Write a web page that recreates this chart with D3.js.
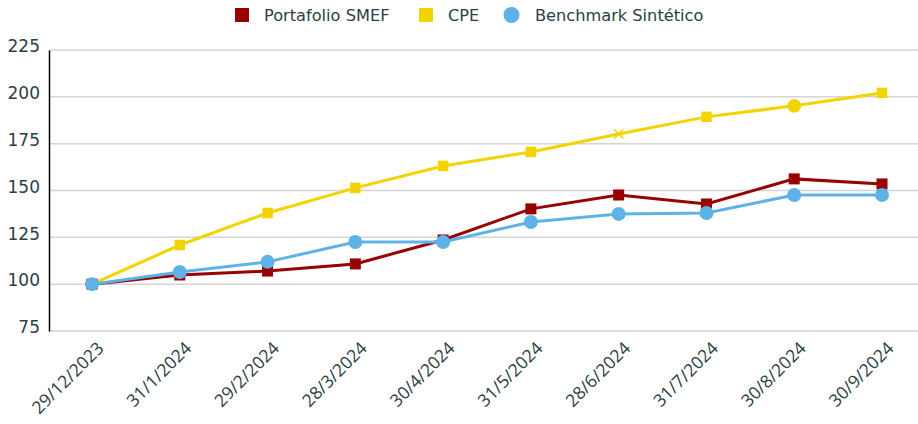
<!DOCTYPE html>
<html>
<head>
<meta charset="utf-8">
<title>Portafolio SMEF vs CPE</title>
<script src="https://cdn.jsdelivr.net/npm/d3@7"></script>
<style>
  body { margin: 0; background: #fff; }
  .tick text { fill: #2b4045; }
</style>
</head>
<body>
<div id="chart"></div>
<script>
// datos
var fechas = ["29/12/2023","31/1/2024","29/2/2024","28/3/2024","30/4/2024","31/5/2024","28/6/2024","31/7/2024","30/8/2024","30/9/2024"];
var smef = [100, 104.9, 107, 110.8, 123.6, 140.2, 147.6, 142.8, 156.2, 153.5];
var cpe = [100, 120.9, 138, 151.4, 163.1, 170.6, 180.2, 189.3, 195.2, 202.1];
var bench = [100, 106.5, 111.9, 122.5, 122.5, 133.2, 137.5, 138, 147.6, 147.6];
var cpeMarcas = ["square","square","square","square","square","square","cross","square","circle","square"];
var yTicks = [75, 100, 125, 150, 175, 200, 225];

var w = 918, h = 424;
var mLeft = 49, mRight = 918, mTop = 50, mBottom = 331;
var textColor = "#2b4045";

var svg = d3.select("#chart").append("svg")
  .attr("width", w).attr("height", h);

var x = d3.scalePoint().domain(fechas).range([92, 882]);
var y = d3.scaleLinear().domain([75, 225]).range([mBottom, mTop]);

// grid
svg.append("g").selectAll("line")
  .data(yTicks)
  .join("line")
  .attr("x1", mLeft).attr("x2", mRight)
  .attr("y1", function(d){ return y(d); })
  .attr("y2", function(d){ return y(d); })
  .attr("stroke", "#d4d4d4")
  .attr("stroke-width", 1.5);

// eje y
var yAxis = svg.append("g")
  .attr("transform", "translate(" + mLeft + ",0)")
  .call(d3.axisLeft(y).tickValues(yTicks).tickSize(0).tickPadding(9));
yAxis.select(".domain").attr("stroke", "#000").attr("stroke-width", 1.5);
yAxis.selectAll("text")
  .attr("font-family", "DejaVu Sans, Verdana, sans-serif")
  .attr("font-size", 17)
  .attr("dy", "0.1em");

// eje x
var xAxis = svg.append("g")
  .attr("transform", "translate(0," + mBottom + ")")
  .call(d3.axisBottom(x).tickSize(0));
xAxis.select(".domain").remove();
xAxis.selectAll("text")
  .attr("font-family", "Open Sans, Lato, sans-serif")
  .attr("font-size", 17.5)
  .attr("text-anchor", "end")
  .attr("transform", "translate(8,14) rotate(-45)")
  .attr("dy", "0.35em")
  .attr("y", 0);

var line = d3.line()
  .x(function(d, i){ return x(fechas[i]); })
  .y(function(d){ return y(d); });

function serie(vals, color) {
  svg.append("path")
    .datum(vals)
    .attr("d", line)
    .attr("fill", "none")
    .attr("stroke", color)
    .attr("stroke-width", 3);
}

var yellow = "#f2d400", red = "#990000", blue = "#5db3e8";

// CPE
serie(cpe, yellow);
svg.append("g").selectAll("path")
  .data(cpe)
  .join("path")
  .attr("transform", function(d, i){ return "translate(" + x(fechas[i]) + "," + y(d) + ")"; })
  .attr("d", function(d, i){
    var t = cpeMarcas[i];
    if (t == "circle") return d3.symbol(d3.symbolCircle, 150)();
    if (t == "cross") return d3.symbol(d3.symbolX, 60)();
    return d3.symbol(d3.symbolSquare, 110)();
  })
  .attr("fill", yellow)
  .attr("stroke", function(d, i){ return cpeMarcas[i] == "cross" ? yellow : "none"; })
  .attr("stroke-width", 1.5);

// SMEF
serie(smef, red);
svg.append("g").selectAll("rect")
  .data(smef)
  .join("rect")
  .attr("x", function(d, i){ return x(fechas[i]) - 5.5; })
  .attr("y", function(d){ return y(d) - 5.5; })
  .attr("width", 11).attr("height", 11)
  .attr("fill", red);

// Benchmark
serie(bench, blue);
svg.append("g").selectAll("circle")
  .data(bench)
  .join("circle")
  .attr("cx", function(d, i){ return x(fechas[i]); })
  .attr("cy", function(d){ return y(d); })
  .attr("r", 7)
  .attr("fill", blue);

// leyenda
var legend = [
  {name: "Portafolio SMEF", color: red, shape: "square", x: 235},
  {name: "CPE", color: yellow, shape: "square", x: 419},
  {name: "Benchmark Sintético", color: blue, shape: "circle", x: 504}
];
var lg = svg.append("g").selectAll("g")
  .data(legend)
  .join("g")
  .attr("transform", function(d){ return "translate(" + d.x + ",15)"; });
lg.filter(function(d){ return d.shape == "square"; })
  .append("rect")
  .attr("x", 0).attr("y", -7).attr("width", 14).attr("height", 14)
  .attr("fill", function(d){ return d.color; });
lg.filter(function(d){ return d.shape == "circle"; })
  .append("circle")
  .attr("cx", 7.5).attr("cy", 0).attr("r", 8)
  .attr("fill", function(d){ return d.color; });
lg.append("text")
  .attr("x", function(d){ return d.shape == "circle" ? 31 : 29; })
  .attr("y", 0).attr("dy", "0.35em")
  .attr("font-family", "DejaVu Sans, Verdana, sans-serif")
  .attr("font-size", 16.2)
  .attr("fill", textColor)
  .text(function(d){ return d.name; });
</script>
</body>
</html>
